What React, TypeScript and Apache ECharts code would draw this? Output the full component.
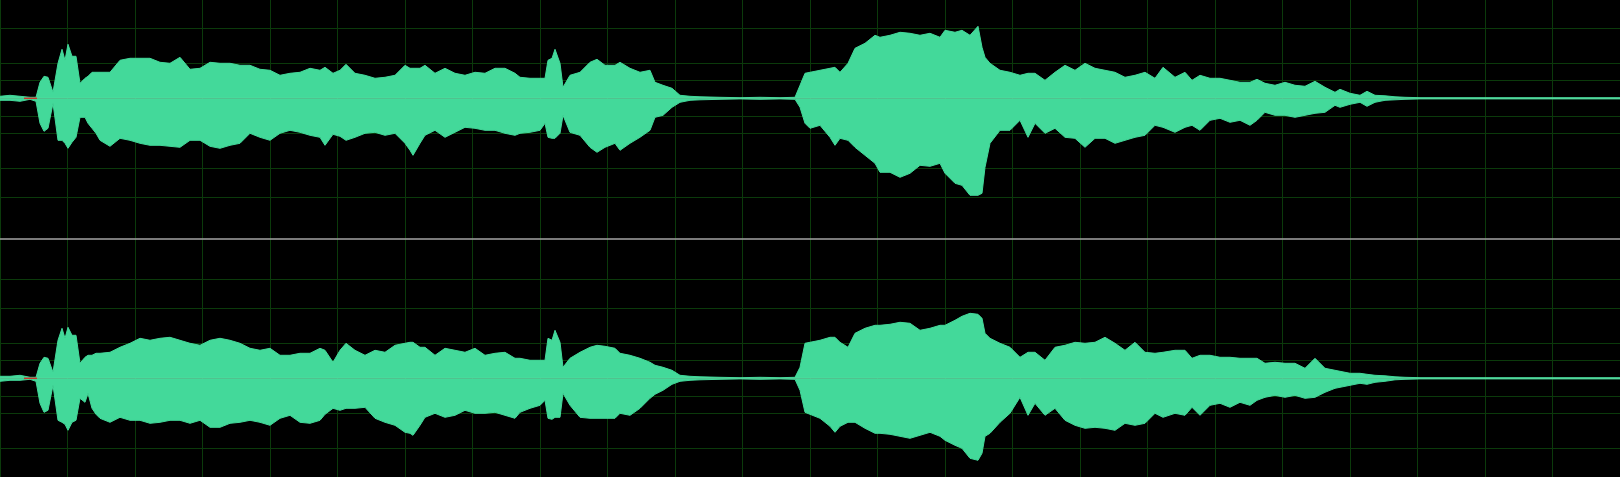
import React, { useEffect, useRef } from "react";
import * as echarts from "echarts";

// Display columns (waveform position along the time axis, 0 … 1620)
const columns = [
  0, 10, 20, 30, 36, 40, 44, 48, 53, 58, 62, 65, 68, 72, 76, 80, 85, 88, 92, 96,
  100, 110, 120, 130, 140, 150, 160, 170, 180, 190, 200, 210, 220, 230, 240, 250, 260, 270, 280, 290,
  300, 310, 320, 325, 333, 340, 346, 355, 365, 375, 385, 395, 405, 410, 413, 420, 425, 435, 445, 455,
  465, 475, 485, 495, 505, 515, 520, 530, 540, 545, 548, 552, 555, 560, 563, 570, 580, 590, 597, 605,
  615, 620, 630, 640, 650, 655, 663, 672, 680, 690, 700, 720, 740, 760, 780, 795, 800, 805, 810, 820,
  830, 835, 840, 848, 855, 865, 875, 880, 890, 900, 910, 920, 930, 940, 945, 955, 962, 970, 978, 982,
  985, 990, 1000, 1010, 1020, 1028, 1035, 1045, 1055, 1065, 1075, 1085, 1095, 1105, 1115, 1125, 1135, 1145, 1155, 1163,
  1175, 1185, 1192, 1200, 1210, 1220, 1230, 1240, 1250, 1257, 1265, 1275, 1285, 1295, 1305, 1315, 1325, 1335, 1340, 1350,
  1360, 1367, 1375, 1385, 1395, 1405, 1420, 1620,
];

// Left channel (top) – positive peak and negative peak magnitude
const leftUpper = [
  2, 3, 2, 1, 1, 16, 22, 21, 6, 35, 49, 38, 54, 42, 42, 15, 20, 22, 26, 26,
  26, 26, 38, 40, 40, 40, 36, 35, 41, 29, 30, 36, 35, 35, 33, 33, 29, 28, 23, 25,
  26, 30, 28, 31, 25, 28, 34, 25, 23, 20, 21, 23, 33, 30, 30, 30, 33, 25, 30, 25,
  23, 26, 25, 30, 30, 25, 21, 20, 20, 20, 38, 40, 49, 35, 11, 23, 26, 36, 39, 33,
  33, 36, 30, 26, 28, 16, 13, 10, 3, 2, 1.5, 1, 0.6, 1, 0.6, 1, 13, 25, 26, 28,
  30, 31, 26, 35, 50, 55, 63, 61, 63, 66, 65, 63, 65, 61, 68, 66, 68, 63, 72, 51,
  41, 35, 28, 26, 23, 25, 25, 18, 26, 33, 28, 35, 30, 28, 26, 21, 23, 26, 20, 31,
  21, 26, 18, 23, 20, 20, 18, 16, 16, 19, 15, 13, 16, 13, 12, 17, 11, 6, 9, 5,
  3, 7, 3, 2.5, 1.5, 1, 0.6, 0.6,
];
const leftLower = [
  2, 2, 3, 1, 3, 25, 33, 30, 5, 42, 42, 45, 50, 44, 39, 19, 19, 25, 30, 35,
  42, 48, 40, 42, 45, 47, 47, 48, 49, 42, 42, 48, 50, 47, 45, 35, 39, 42, 35, 32,
  34, 37, 39, 47, 36, 38, 42, 39, 35, 34, 37, 35, 45, 52, 57, 45, 37, 32, 39, 34,
  29, 30, 32, 32, 35, 37, 35, 34, 32, 25, 39, 40, 40, 35, 17, 34, 37, 49, 54, 49,
  45, 52, 45, 39, 32, 19, 17, 9, 4, 2, 1.5, 1, 0.6, 1, 0.6, 1, 9, 25, 30, 27,
  39, 47, 40, 42, 49, 57, 65, 74, 74, 79, 75, 67, 68, 65, 75, 85, 87, 97, 97, 95,
  69, 45, 32, 32, 22, 39, 25, 35, 30, 39, 40, 49, 40, 40, 45, 42, 39, 37, 27, 29,
  34, 29, 27, 32, 22, 20, 24, 22, 27, 22, 14, 17, 17, 19, 17, 15, 14, 7, 9, 6,
  4, 8, 4, 2, 1.5, 1, 0.6, 0.6,
];

// Right channel (bottom)
const rightUpper = [
  2, 2, 3, 1, 1, 15, 21, 20, 6, 38, 50, 40, 51, 43, 43, 15, 21, 23, 23, 25,
  25, 26, 31, 35, 40, 38, 40, 41, 38, 35, 33, 38, 40, 38, 35, 30, 28, 30, 23, 23,
  25, 25, 30, 28, 16, 28, 35, 28, 23, 28, 26, 33, 35, 36, 36, 31, 31, 23, 30, 28,
  26, 30, 23, 25, 26, 20, 20, 18, 18, 18, 40, 38, 48, 36, 11, 20, 26, 31, 33, 32,
  30, 25, 23, 20, 16, 13, 11, 8, 3, 2, 1.5, 1, 0.6, 1, 0.6, 1, 11, 35, 36, 38,
  41, 41, 36, 31, 45, 50, 53, 53, 54, 56, 55, 48, 50, 53, 53, 58, 62, 65, 64, 60,
  45, 40, 35, 31, 21, 26, 26, 18, 31, 33, 36, 35, 36, 41, 35, 28, 36, 26, 25, 26,
  28, 28, 20, 23, 23, 21, 21, 20, 20, 20, 15, 16, 15, 15, 10, 20, 10, 8, 7, 5,
  5, 4, 3, 2.5, 1.5, 1, 0.6, 0.6,
];
const rightLower = [
  3, 2, 2, 1, 3, 25, 34, 32, 7, 42, 44, 46, 52, 44, 42, 20, 24, 15, 30, 36,
  40, 44, 39, 42, 42, 45, 44, 42, 42, 45, 42, 49, 49, 45, 44, 42, 44, 47, 40, 37,
  44, 45, 42, 36, 30, 32, 30, 30, 29, 40, 44, 47, 54, 55, 57, 47, 39, 35, 39, 37,
  32, 35, 35, 34, 37, 40, 34, 30, 27, 22, 40, 41, 39, 39, 15, 27, 39, 40, 40, 40,
  40, 35, 37, 30, 20, 16, 12, 6, 3, 2, 1.5, 1, 0.6, 1, 0.6, 1, 12, 34, 36, 40,
  48, 54, 48, 44, 44, 50, 55, 55, 56, 58, 60, 57, 54, 58, 62, 67, 70, 80, 82, 75,
  58, 55, 44, 35, 19, 37, 25, 37, 30, 42, 47, 50, 49, 50, 52, 45, 47, 45, 35, 39,
  35, 37, 29, 37, 27, 25, 29, 24, 27, 22, 19, 17, 19, 17, 20, 19, 14, 10, 9, 7,
  5, 6, 4, 3, 1.5, 1, 0.6, 0.6,
];

// Clipped (red) sample ranges near the start of each channel
const clipRanges = [[24, 37]];

const FULL_SCALE = 140;
const dbLevels = [-3, -6, -12, -18];
const leftView = { min: -140, max: 98.3 };
const rightView = { min: -98.7, max: 140 };

const WAVE = "#43d99a";
const GRID = "#0b3a0b";
const SEP = "#a4a4a4";

export default function App() {
  const ref = useRef<HTMLDivElement>(null);

  useEffect(() => {
    const chart = echarts.init(ref.current!, null, { renderer: "svg" });

    const levelValues: number[] = [];
    dbLevels.forEach((db) => {
      const a = FULL_SCALE * Math.pow(10, db / 20);
      levelValues.push(a, -a);
    });

    const pairs = (vals: number[], sign: number) =>
      columns.map((c, i) => [c, sign * vals[i]]);

    const gridSeries = (idx: number, view: { min: number; max: number }) => ({
      type: "line",
      xAxisIndex: idx,
      yAxisIndex: idx,
      data: [[0, 0]],
      symbol: "none",
      lineStyle: { opacity: 0 },
      silent: true,
      z: 1,
      markLine: {
        silent: true,
        z: 1,
        symbol: "none",
        label: { show: false },
        lineStyle: { color: GRID, width: 1, type: "solid" },
        data: levelValues
          .filter((v) => v > view.min + 0.5 && v < view.max - 0.5)
          .map((v) => ({ yAxis: v })),
      },
    });

    const waveSeries = (idx: number, vals: number[], sign: number) => ({
      type: "line",
      xAxisIndex: idx,
      yAxisIndex: idx,
      data: pairs(vals, sign),
      symbol: "none",
      silent: true,
      z: 10,
      lineStyle: { color: WAVE, width: 1 },
      areaStyle: { color: WAVE, opacity: 1, origin: 0 },
    });

    const centerSeries = (idx: number) => ({
      type: "line",
      xAxisIndex: idx,
      yAxisIndex: idx,
      data: [
        [0, 0],
        [1620, 0],
      ],
      symbol: "none",
      silent: true,
      z: 11,
      lineStyle: { color: "rgba(150,240,190,0.35)", width: 1 },
    });

    const clipSeries = (idx: number) =>
      clipRanges.map((r) => ({
        type: "line",
        xAxisIndex: idx,
        yAxisIndex: idx,
        data: [
          [r[0], 0],
          [r[1], 0],
        ],
        symbol: "none",
        silent: true,
        z: 12,
        lineStyle: { color: "#c8342c", width: 1.5 },
      }));

    const xAxisBase = (idx: number) => ({
      type: "value",
      gridIndex: idx,
      min: 0,
      max: 1620,
      interval: 67.5,
      axisLabel: { show: false },
      axisTick: { show: false },
      splitLine: { show: true, lineStyle: { color: GRID, width: 1 } },
      axisLine:
        idx === 0
          ? { show: true, onZero: false, lineStyle: { color: SEP, width: 1.5 } }
          : { show: false },
      z: 0,
    });

    const yAxisBase = (idx: number, view: { min: number; max: number }) => ({
      type: "value",
      gridIndex: idx,
      min: view.min,
      max: view.max,
      axisLabel: { show: false },
      axisTick: { show: false },
      axisLine: { show: false },
      splitLine: { show: false },
    });

    chart.setOption({
      animation: false,
      backgroundColor: "#000000",
      grid: [
        { left: 0, right: 0, top: 0, height: 238.3 },
        { left: 0, right: 0, top: 238.3, height: 238.7 },
      ],
      xAxis: [xAxisBase(0), xAxisBase(1)],
      yAxis: [yAxisBase(0, leftView), yAxisBase(1, rightView)],
      series: [
        gridSeries(0, leftView),
        gridSeries(1, rightView),
        waveSeries(0, leftUpper, 1),
        waveSeries(0, leftLower, -1),
        waveSeries(1, rightUpper, 1),
        waveSeries(1, rightLower, -1),
        centerSeries(0),
        centerSeries(1),
        ...clipSeries(0),
        ...clipSeries(1),
      ],
    });

    return () => chart.dispose();
  }, []);

  return (
    <div
      ref={ref}
      style={{
        position: "fixed",
        left: 0,
        top: 0,
        width: 1620,
        height: 477,
        background: "#000",
      }}
    />
  );
}
